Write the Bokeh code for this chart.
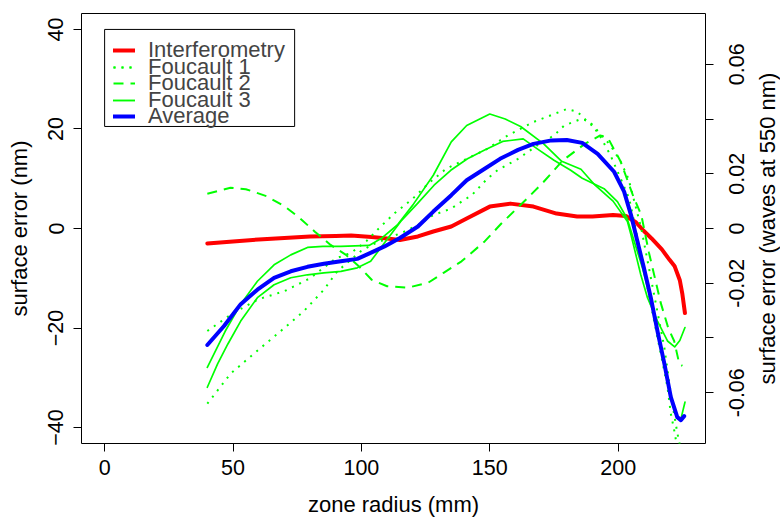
import math
from bokeh.plotting import figure
from bokeh.layouts import row
from bokeh.models import Range1d, LinearAxis, FixedTicker, Legend, LegendItem, BoxAnnotation, Label
from bokeh.embed import file_html
from bokeh.resources import INLINE

# ---------------- data (zone radius in mm, surface error in nm) ----------------
interf_x = [40, 50, 60, 70, 80, 90, 96, 104, 110, 115, 122, 128, 135, 141, 150, 158, 167, 176, 184, 190,
            198, 203, 207, 210, 213, 217, 220, 222, 224, 225, 226]
interf_y = [-3.0, -2.6, -2.2, -1.9, -1.6, -1.5, -1.4, -1.7, -2.0, -2.3, -1.6, -0.6, 0.4, 2.0, 4.4, 5.0, 4.4, 3.0,
            2.4, 2.4, 2.7, 2.5, 1.2, -0.5, -2.0, -4.2, -6.3, -7.6, -10.4, -13.2, -17.0]

f1a_x = [40, 50, 60, 70, 80, 90, 96, 102, 107.5, 113, 120, 126, 133, 141, 149, 157, 167, 175, 180, 184, 188,
         191, 197, 201, 204, 206, 209, 212, 215, 218, 221, 223, 225]
f1a_y = [-20.6, -17.0, -14.2, -12.6, -10.0, -6.0, -4.9, -2.5, 0.4, 3.1, 6.0, 9.0, 12.0, 14.0, 16.0, 18.7, 21.4,
         23.0, 24.0, 23.5, 21.5, 20.2, 16.7, 13.4, 10.0, 6.0, 0.0, -8.0, -16.0, -24.0, -35.0, -41.0, -46.0]

f1b_x = [40, 49, 58, 68.6, 77.6, 85.4, 90.6, 99.7, 104, 110, 116, 122, 128, 135, 139, 143, 149, 153, 161, 168.5,
         175, 179, 185.5, 189, 193, 197, 201, 204.3, 206.2, 208.8, 211.4, 214, 216.6, 219.2, 220.5, 221.8, 224]
f1b_y = [-35.2, -29.2, -25.2, -20.6, -16.6, -12.3, -8.6, -4.6, -3.3, -2.0, -0.8, 0.7, 2.7, 4.0, 5.4, 6.7, 10.0,
         11.7, 14.0, 16.7, 18.7, 20.7, 22.0, 21.5, 18.5, 14.7, 10.0, 6.0, 1.4, -5.3, -11.9, -18.6, -25.2, -31.9,
         -37.2, -40.5, -47.0]

f2_x = [40, 49, 55, 63, 70, 76, 82, 88, 94, 99, 104, 110, 118, 126, 132, 139, 148, 154.5, 164.5, 171, 178.5,
        187, 193, 196, 201, 206, 209, 212, 216.6, 219.5, 221.8, 223.8, 225]
f2_y = [7.0, 8.2, 7.9, 6.5, 4.5, 2.1, -0.7, -3.3, -5.3, -7.6, -10.3, -11.6, -11.9, -10.9, -8.9, -6.6, -2.6, 1.0,
        6.0, 9.4, 13.7, 17.0, 18.7, 18.2, 13.4, 6.3, 2.7, -4.9, -15.0, -20.0, -22.6, -27.2, -27.6]

f3a_x = [40, 47, 53, 59.5, 66, 72.5, 79, 85, 92, 103, 108, 114, 120, 128, 135, 141, 150, 156, 162, 171, 178,
         185.5, 191, 198, 203.6, 205, 208.8, 211.4, 215.3, 219.2, 222, 224, 226]
f3a_y = [-27.9, -20.6, -15.2, -10.6, -7.3, -5.3, -3.8, -3.6, -3.6, -3.4, -1.9, 0.7, 4.7, 10.7, 17.4, 20.7, 23.0,
         22.0, 20.5, 17.0, 13.5, 11.9, 8.7, 5.5, 1.4, -1.3, -9.3, -13.9, -18.6, -22.6, -23.8, -22.5, -19.9]

f3b_x = [40, 44, 48, 53, 59.5, 66, 72.5, 79, 85.4, 92, 98.4, 103.6, 108.8, 115.3, 121.8, 128.3, 134.8, 141.3,
         147.8, 155, 163, 168.5, 175, 181.5, 186, 194.5, 199.7, 203.5, 206.5, 209.5, 212.5, 215.3, 218, 220.5,
         223, 224.4, 226]
f3b_y = [-31.9, -27.2, -23.2, -18.6, -13.9, -11.3, -9.9, -9.3, -8.9, -8.6, -7.9, -6.6, -3.0, 1.4, 5.0, 8.7, 11.7,
         14.0, 15.7, 17.5, 18.0, 16.0, 13.7, 11.7, 10.1, 8.0, 5.4, 2.0, -3.0, -8.0, -14.0, -20.6, -27.2, -33.9,
         -38.0, -38.3, -34.9]

avg_x = [40, 46.5, 53, 59.5, 66, 72.5, 79, 85.4, 92, 98.4, 104, 109, 115, 122, 128, 135, 141, 148, 154, 161,
         167, 174, 180, 186, 192, 198.4, 202.3, 205, 207.5, 210, 212.7, 215.3, 218, 220.5, 223, 224.4, 225.7]
avg_y = [-23.4, -19.6, -15.2, -12.3, -9.9, -8.6, -7.7, -7.1, -6.6, -6.1, -4.8, -3.6, -1.9, 0.4, 3.4, 6.7, 9.7,
         12.0, 14.0, 15.8, 17.0, 17.7, 17.8, 17.2, 15.0, 11.4, 7.4, 2.7, -2.6, -7.9, -13.9, -20.6, -27.2, -33.9,
         -37.9, -38.5, -37.7]

x_ticks = [0, 50, 100, 150, 200]
y_ticks = [-40, -20, 0, 20, 40]
wave_ticks = [-0.06, -0.04, -0.02, 0.0, 0.02, 0.04, 0.06]
wave_labels = ["-0.06", "", "-0.02", "0", "0.02", "", "0.06"]
wavelength_nm = 550.0

legend_labels = ["Interferometry", "Foucault 1", "Foucault 2", "Foucault 3", "Average"]
x_title = "zone radius (mm)"
y_title = "surface error (nm)"
y2_title = "surface error (waves at 550 nm)"

FONT = "Liberation Sans"
FS = "21.5px"
FS_T = "22px"

TOTAL_W, TOTAL_H = 780, 519
MAIN_W = 715
BORDER_L, BORDER_R, BORDER_T, BORDER_B = 81, 10, 13, 73

ylim = 43.2
p = figure(width=MAIN_W, height=TOTAL_H, x_range=Range1d(-9, 234), y_range=Range1d(-ylim, ylim),
           output_backend="svg", toolbar_location=None,
           min_border_left=BORDER_L, min_border_right=BORDER_R, min_border_top=BORDER_T,
           min_border_bottom=BORDER_B,
           background_fill_color="white", border_fill_color="white",
           outline_line_color="black", outline_line_width=1)
p.grid.visible = False
p.extra_y_ranges = {"waves": Range1d(-ylim / wavelength_nm, ylim / wavelength_nm)}

def style_axis(ax):
    ax.axis_line_color = None
    ax.major_tick_line_color = "black"
    ax.major_tick_out = 8
    ax.major_tick_in = 0
    ax.minor_tick_line_color = None
    ax.major_label_text_font = FONT
    ax.major_label_text_font_size = FS
    ax.major_label_text_color = "black"
    ax.axis_label_text_font = FONT
    ax.axis_label_text_font_size = FS_T
    ax.axis_label_text_font_style = "normal"
    ax.axis_label_text_color = "black"

xa = p.xaxis[0]
style_axis(xa)
xa.ticker = FixedTicker(ticks=x_ticks)
xa.axis_label = x_title
xa.major_label_standoff = 8
xa.axis_label_standoff = 14

ya = p.yaxis[0]
style_axis(ya)
ya.ticker = FixedTicker(ticks=y_ticks)
ya.axis_label = y_title
ya.major_label_orientation = "vertical"
ya.major_label_standoff = 10
ya.axis_label_standoff = 14

# right axis of the main plot: tick marks (labels are set upright in the strip to its right)
ra = LinearAxis(y_range_name="waves", ticker=FixedTicker(ticks=wave_ticks),
                major_label_overrides={t: "" for t in wave_ticks})
style_axis(ra)
ra.major_label_text_font_size = "1px"
ra.major_label_standoff = 0
p.add_layout(ra, "right")

RED, GREEN, BLUE = "#FF0000", "#00FF00", "#0000FF"

r_int = p.line(interf_x, interf_y, line_color=RED, line_width=4, line_cap="round", line_join="round")
r_f1a = p.line(f1a_x, f1a_y, line_color=GREEN, line_width=2, line_dash="2 6")
r_f1b = p.line(f1b_x, f1b_y, line_color=GREEN, line_width=2, line_dash="2 6")
r_f2 = p.line(f2_x, f2_y, line_color=GREEN, line_width=2, line_dash="10 7")
r_f3a = p.line(f3a_x, f3a_y, line_color=GREEN, line_width=1.7, line_cap="round", line_join="round")
r_f3b = p.line(f3b_x, f3b_y, line_color=GREEN, line_width=1.7, line_cap="round", line_join="round")
r_avg = p.line(avg_x, avg_y, line_color=BLUE, line_width=4, line_cap="round", line_join="round")

# legend frame (anchored at data point x=0, y=40)
p.add_layout(BoxAnnotation(left=0, right=74.0, top=40, bottom=20.5,
                           fill_color="white", fill_alpha=1.0,
                           line_color="black", line_width=1, line_alpha=1.0))

# legend rows (tight row pitch as in the reference)
row_renderers = [[r_int], [r_f1a, r_f1b], [r_f2], [r_f3a, r_f3b], [r_avg]]
frame_bottom_px = TOTAL_H - BORDER_B
first_row_center = 48.3
row_pitch = 16.4
item_h = 24
for i, (lab, rends) in enumerate(zip(legend_labels, row_renderers)):
    c = first_row_center + i * row_pitch
    lg = Legend(items=[LegendItem(label=lab, renderers=rends)],
                location=(32, frame_bottom_px - c - 18))
    lg.border_line_color = None
    lg.background_fill_alpha = 0
    lg.label_text_font = FONT
    lg.label_text_font_size = FS_T
    lg.glyph_width = 22
    lg.glyph_height = item_h
    lg.label_height = item_h
    lg.label_standoff = 13
    lg.padding = 0
    lg.spacing = 0
    lg.margin = 0
    p.add_layout(lg)

# strip to the right of the plot: secondary-axis labels and title, reading upward, same vertical scale
SIDE_W = TOTAL_W - MAIN_W
side = figure(width=SIDE_W, height=TOTAL_H, x_range=Range1d(0, SIDE_W), y_range=Range1d(-ylim, ylim),
              output_backend="svg", toolbar_location=None, x_axis_type=None, y_axis_type=None,
              min_border_left=0, min_border_right=0, min_border_top=BORDER_T, min_border_bottom=BORDER_B,
              background_fill_color="white", border_fill_color="white", outline_line_color=None)
side.extra_y_ranges = {"waves": Range1d(-ylim / wavelength_nm, ylim / wavelength_nm)}
for t, lab in zip(wave_ticks, wave_labels):
    if lab:
        side.add_layout(Label(x=736 - MAIN_W, y=t, y_range_name="waves",
                              text=lab, angle=math.pi / 2, text_align="center", text_baseline="middle",
                              text_font=FONT, text_font_size=FS, text_color="black"))
side.add_layout(Label(x=767 - MAIN_W, y=0, text=y2_title,
                      angle=math.pi / 2, text_align="center", text_baseline="middle",
                      text_font=FONT, text_font_size=FS_T, text_color="black"))

layout = row(p, side, spacing=0)
open("out.html", "w").write(file_html(layout, INLINE))
